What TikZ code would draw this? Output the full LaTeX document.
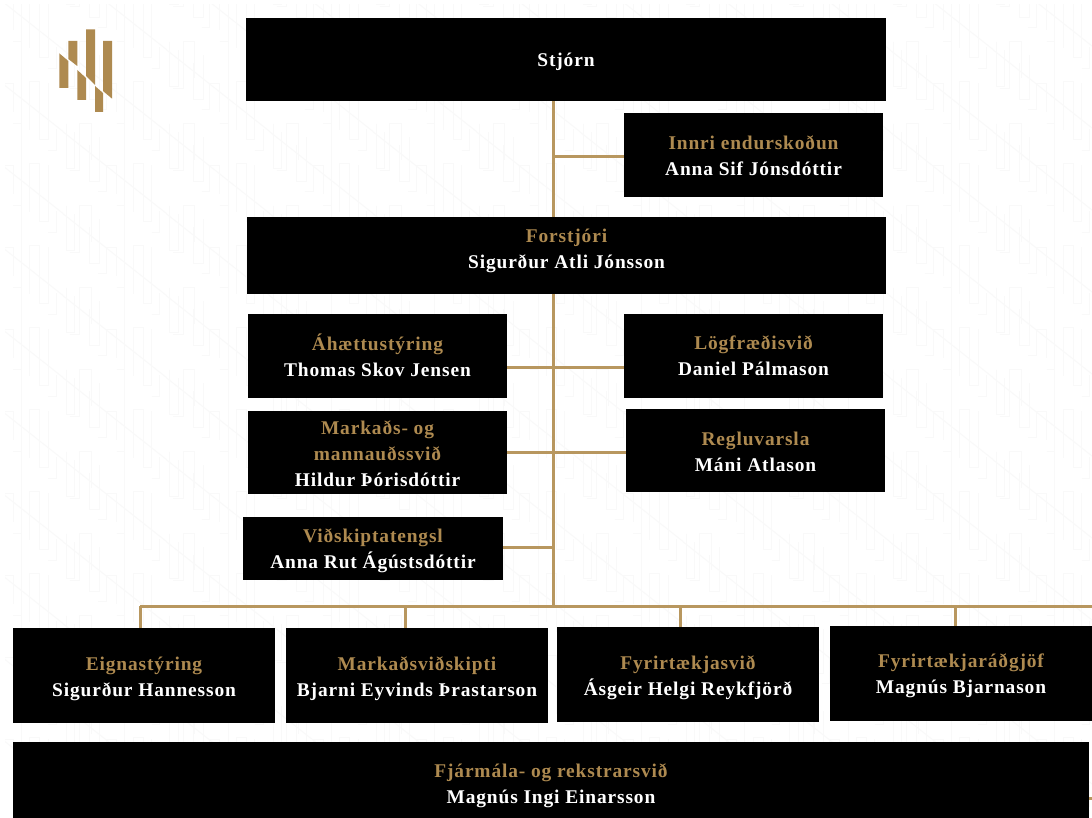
\documentclass[tikz,border=0pt]{standalone}
\usepackage{fontspec}
\setmainfont[LetterSpace=4.5]{Liberation Serif}
\usetikzlibrary{backgrounds}
\definecolor{golden}{HTML}{AE8A50}
\definecolor{lineg}{HTML}{B8975F}
\definecolor{wm}{HTML}{F9F9F9}
% name, x1,y1,x2,y2, text-shift, text
\newcommand{\orgbox}[7]{%
  \node[orgbox,minimum width={#4 pt-#2 pt},minimum height={#5 pt-#3 pt}] (#1) at ({(#2+#4)/2},{(#3+#5)/2}) {};
  \node[orgtext] (#1t) at ({(#2+#4)/2},{(#3+#5)/2+#6}) {#7};}
\newcommand{\gt}[1]{{\color{golden}#1}\\}
\tikzset{
  orgbox/.style={fill=black,draw=none,inner sep=0pt},
  orgtext/.style={text=white,font=\bfseries\fontsize{19.4}{26}\selectfont,align=center,inner sep=0pt},
  link/.style={draw=lineg,line width=3pt},
  logobar/.style={fill=golden,draw=none},
  wmline/.style={draw=wm,line width=1pt}
}
\begin{document}
\begin{tikzpicture}[x=1pt,y=-1pt]
\useasboundingbox (0,0) rectangle (1092,818);
% boxes
\orgbox{stjorn}{246}{18}{886}{101}{2}{Stjórn}
\orgbox{innri}{624}{113}{883}{197}{1}{\gt{Innri endurskoðun}Anna Sif Jónsdóttir}
\orgbox{forstjori}{247}{217}{886}{294}{-5}{\gt{Forstjóri}Sigurður Atli Jónsson}
\orgbox{ahaettu}{248}{314}{507}{398}{-1}{\gt{Áhættustýring}Thomas Skov Jensen}
\orgbox{logfr}{624}{314}{883}{398}{0}{\gt{Lögfræðisvið}Daniel Pálmason}
\orgbox{markads}{248}{411}{507}{494}{1}{\gt{Markaðs- og}\gt{mannauðssvið}Hildur Þórisdóttir}
\orgbox{regl}{626}{409}{885}{492}{1}{\gt{Regluvarsla}Máni Atlason}
\orgbox{vidsk}{243}{517}{503}{580}{2}{\gt{Viðskiptatengsl}Anna Rut Ágústsdóttir}
\orgbox{eign}{13}{628}{275}{723}{3}{\gt{Eignastýring}Sigurður Hannesson}
\orgbox{marksv}{286}{628}{548}{723}{3}{\gt{Markaðsviðskipti}Bjarni Eyvinds Þrastarson}
\orgbox{fyrir}{557}{627}{819}{722}{3}{\gt{Fyrirtækjasvið}Ásgeir Helgi Reykfjörð}
\orgbox{radgj}{830}{626}{1092}{721}{2}{\gt{Fyrirtækjaráðgjöf}Magnús Bjarnason}
\orgbox{fjar}{13}{742}{1089}{830}{0}{\gt{Fjármála- og rekstrarsvið}Magnús Ingi Einarsson}
% connectors and background
\begin{scope}[on background layer]
\fill[white] (0,0) rectangle (1092,818);
\begin{scope}
\clip (5,5) rectangle (1092,818);
\foreach \i in {-40,63.33,...,1092}{\foreach \j in {-82,0,...,818}{
 \begin{scope}[shift={(\i,\j)},x=0.3333pt,y=-0.3333pt]
  \draw[wmline] (20,265) -- (50,265) -- (50,125) -- (85,125) -- (85,235);
  \draw[wmline] (80,190) -- (80,300) -- (110,300) -- (110,165);
  \draw[wmline] (105,330) -- (130,330) -- (130,250) -- (160,250) -- (160,335);
  \draw[wmline] (160,125) -- (185,125) -- (185,375);
  \draw[wmline] (210,390) -- (210,245) -- (240,245) -- (240,420) -- (265,420) -- (265,250);
  \draw[wmline] (265,205) -- (290,205) -- (290,140);
  \draw[wmline] (320,125) -- (320,260) -- (345,260) -- (345,150);
  \draw[wmline] (0,150) -- (310,395);
 \end{scope}
}}
\end{scope}
% logo
\fill[logobar] (59.3,53.3) -- (68.3,61) -- (68.3,88) -- (59.3,88) -- cycle;
\fill[logobar] (68.3,41) -- (77.3,41) -- (77.3,66) -- (68.3,59) -- cycle;
\fill[logobar] (77.3,70) -- (86,78) -- (86,100) -- (77.3,100) -- cycle;
\fill[logobar] (86,29.5) -- (95,29.5) -- (95,85) -- (86,76) -- cycle;
\fill[logobar] (95,86) -- (103,93) -- (103,112) -- (95,112) -- cycle;
\fill[logobar] (103,41) -- (112,41) -- (112,98.6) -- (103,91) -- cycle;
\coordinate (trunkx) at (553,0);
\coordinate (bus) at (553,606);
\coordinate (busl) at (140,606);
\coordinate (busr) at (1092,606);
\coordinate (stub) at (1092,798);
\draw[link] (trunkx |- stjorn.south) -- (bus);
\draw[link] (trunkx |- 0,157) -- (innri.west |- 0,157);
\draw[link] (ahaettu.east |- 0,367) -- (logfr.west |- 0,367);
\draw[link] (markads.east |- 0,452) -- (regl.west |- 0,452);
\draw[link] (vidsk.east |- 0,547) -- (trunkx |- 0,547);
\draw[link] (busl) -- (busr);
\draw[link] (busl) -- (busl |- eign.north);
\draw[link] (405,606) -- (405,0 |- marksv.north);
\draw[link] (680,606) -- (680,0 |- fyrir.north);
\draw[link] (955,606) -- (955,0 |- radgj.north);
\draw[link] (fjar.east |- stub) -- (stub);
\end{scope}
\end{tikzpicture}
\end{document}
